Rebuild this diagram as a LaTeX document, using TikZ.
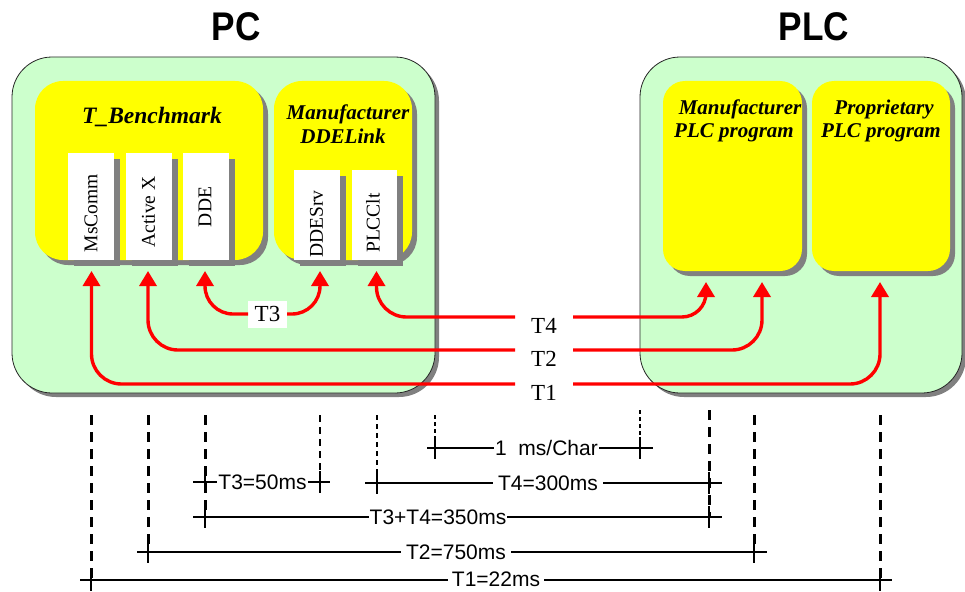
\documentclass[tikz,border=0pt]{standalone}
\usepackage{fontspec}
\setmainfont{Liberation Serif}
\setsansfont{Liberation Sans}
\usetikzlibrary{arrows.meta,shadows,calc}
\definecolor{pcgreen}{HTML}{CCFFCC}
\definecolor{boxyellow}{HTML}{FFFF00}
\definecolor{shadowgray}{HTML}{808080}
\definecolor{arrowred}{HTML}{FF0000}
\begin{document}
\begin{tikzpicture}[x=1pt,y=-1pt,
  every node/.style={inner sep=0pt, outer sep=0pt},
  >={Triangle[width=17pt,length=15pt]},
  shadowed/.style={drop shadow={shadow xshift=#1, shadow yshift=-#1, fill=shadowgray, opacity=1}},
  outerbox/.style={draw=black!85, line width=0.8pt, fill=pcgreen, rounded corners=40pt, shadowed=4pt, anchor=north west},
  yellowbox/.style={fill=boxyellow, rounded corners=#1, shadowed=5pt, anchor=north west},
  whitebox/.style={fill=white, shadowed=6pt, anchor=north west},
  title/.style={font=\sffamily\bfseries\fontsize{40}{44}\selectfont},
  boxlabel/.style={font=\bfseries\itshape\fontsize{21}{23}\selectfont, anchor=base},
  vtext/.style={font=\fontsize{19.5}{21}\selectfont, rotate=90},
  tlabel/.style={font=\fontsize{23}{25}\selectfont, fill=white},
  conn/.style={draw=arrowred, line width=3.4pt, rounded corners=#1},
  conn/.default=30pt,
  dimline/.style={line width=1.3pt},
  tick/.style={line width=1.7pt},
  dimtext/.style={font=\sffamily\fontsize{21}{23}\selectfont, fill=white, inner xsep=3pt, inner ysep=1pt},
  dashA/.style={line width=3pt, dash pattern=on 10pt off 7pt},
  dashB/.style={line width=2.8pt, dash pattern=on 7pt off 5pt},
  dashC/.style={line width=2.6pt, dash pattern=on 5pt off 4pt},
  dashD/.style={line width=2.4pt, dash pattern=on 4pt off 3pt},
]
\useasboundingbox (0,0) rectangle (965,591);

% titles
\node[title] (pctitle) at (236,27) {\scalebox{0.88}[1]{PC}};
\node[title] (plctitle) at (814,27) {\scalebox{0.88}[1]{PLC}};

% outer boxes
\node[outerbox, minimum width=423pt, minimum height=336pt] (pc) at (12,57) {};
\node[outerbox, minimum width=322pt, minimum height=336pt] (plc) at (640,57) {};

% yellow boxes
\node[yellowbox=28pt, minimum width=228pt, minimum height=179pt] (tb) at (35,81) {};
\node[yellowbox=28pt, minimum width=138pt, minimum height=179pt] (ddel) at (274,81) {};
\node[yellowbox=22pt, minimum width=139pt, minimum height=190pt] (manplc) at (663,81) {};
\node[yellowbox=22pt, minimum width=138pt, minimum height=190pt] (prop) at (812,81) {};

% yellow box labels
\node[boxlabel, font=\bfseries\itshape\fontsize{23.5}{25}\selectfont] (tbl) at (152,123) {T\_Benchmark};
\node[boxlabel] (ddel1) at (348,119) {Manufacturer};
\node[boxlabel] (ddel2) at (343,143) {DDELink};
\node[boxlabel] (man1) at (740,114) {Manufacturer};
\node[boxlabel] (man2) at (734,137) {PLC program};
\node[boxlabel] (prop1) at (884,114) {Proprietary};
\node[boxlabel] (prop2) at (881,137) {PLC program};

% white boxes
\node[whitebox, minimum width=46pt, minimum height=107pt] (mscomm) at (68,153) {};
\node[whitebox, minimum width=46pt, minimum height=107pt] (activex) at (126,153) {};
\node[whitebox, minimum width=46pt, minimum height=107pt] (dde) at (183,153) {};
\node[whitebox, minimum width=46pt, minimum height=90pt] (ddesrv) at (294,170) {};
\node[whitebox, minimum width=45pt, minimum height=90pt] (plcclt) at (352,170) {};

\node[vtext] (mscommt) at (91,213) {MsComm};
\node[vtext] (activext) at (148.5,212) {Active X};
\node[vtext] (ddet) at (205,207) {DDE};
\node[vtext] (ddesrvt) at (316.5,224) {DDESrv};
\node[vtext] (plccltt) at (373,223) {PLCClt};

% red connectors
\node[tlabel, minimum width=39pt, minimum height=27pt] (t3) at (267.5,314) {T3};
\draw[conn=28pt, <-] ([xshift=-1pt,yshift=-11pt]dde.south) |- (t3.west);
\draw[conn=28pt, ->] (t3.east) -| ([xshift=3pt,yshift=-11pt]ddesrv.south);

\node[tlabel, anchor=north, minimum width=58pt, inner ysep=1pt] (t4) at (544,317) {T4};
\node[tlabel, anchor=north, minimum width=58pt, inner ysep=1pt] (t2) at (544,350) {T2};
\node[tlabel, anchor=north, minimum width=58pt, inner ysep=1pt] (t1) at (544,384) {T1};

\draw[conn=30pt, <-] ([xshift=2pt,yshift=-11pt]plcclt.south) |- (t4.north west);
\draw[conn=24pt, ->] (t4.north east) -| ([xshift=-26.5pt,yshift=-11pt]manplc.south);
\draw[conn, <-] ([xshift=-1pt,yshift=-11pt]activex.south) |- (t2.north west);
\draw[conn, ->] (t2.north east) -| ([xshift=29.5pt,yshift=-11pt]manplc.south);
\draw[conn, <-] ([xshift=0.5pt,yshift=-11pt]mscomm.south) |- (t1.north west);
\draw[conn, ->] (t1.north east) -| ([xshift=-1pt,yshift=-11pt]prop.south);

% timing scale: dashed guides
\draw[dashA] (91,415) -- (91,580);
\draw[dashA] (148,415) -- (148,552);
\draw[dashA] (205,415) -- (205,517);
\draw[dashB] (320,415) -- (320,482);
\draw[dashC] (377,415) -- (377,483);
\draw[dashD] (435,415) -- (435,448);
\draw[dashD] (640,410) -- (640,448);
\draw[dashA] (709,410) -- (709,517);
\draw[dashA] (754,415) -- (754,552);
\draw[dashA] (880,415) -- (880,580);

% dimension lines
\draw[dimline] (427,448) -- (653,448);
\draw[dimline] (193,482) -- (330,482);
\draw[dimline] (365,483) -- (722,483);
\draw[dimline] (193,517) -- (722,517);
\draw[dimline] (137,552) -- (767,552);
\draw[dimline] (80,580) -- (892,580);

% ticks
\foreach \x/\y in {435/448, 640/448, 205/482, 320/482, 377/483, 709/483,
                   205/517, 709/517, 148/552, 754/552, 91/580, 880/580}
  \draw[tick] (\x,\y-11) -- (\x,\y+11);

% dimension labels
\node[dimtext, inner xsep=1pt] (d1) at (546.5,448) {1\ \ ms/Char};
\node[dimtext, inner xsep=1pt] (d2) at (262.5,482) {T3=50ms};
\node[dimtext, inner xsep=5pt] (d3) at (548,483) {T4=300ms};
\node[dimtext, inner xsep=1pt] (d4) at (438,517) {T3+T4=350ms};
\node[dimtext, inner xsep=5pt] (d5) at (456,552) {T2=750ms};
\node[dimtext, inner xsep=4pt, inner ysep=0pt] (d6) at (496,579) {T1=22ms};
\end{tikzpicture}
\end{document}
